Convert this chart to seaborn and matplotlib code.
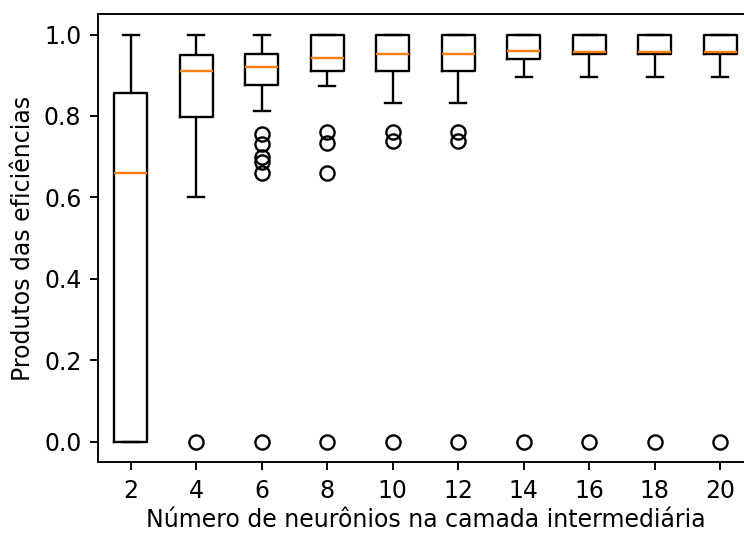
import numpy as np
import pandas as pd
import matplotlib
matplotlib.use("Agg")
import matplotlib.pyplot as plt
import seaborn as sns

# Hidden-layer sizes tested
neurons = [2, 4, 6, 8, 10, 12, 14, 16, 18, 20]

# Box-plot summary of the efficiency products for each network size
whisker_low = [0.000, 0.600, 0.812, 0.874, 0.831, 0.831, 0.895, 0.895, 0.895, 0.895]
q1 = [0.000, 0.798, 0.875, 0.911, 0.911, 0.911, 0.941, 0.953, 0.953, 0.953]
median = [0.660, 0.910, 0.921, 0.943, 0.952, 0.952, 0.959, 0.958, 0.958, 0.958]
q3 = [0.856, 0.951, 0.952, 1.000, 1.000, 1.000, 1.000, 1.000, 1.000, 1.000]
whisker_high = [1.000, 1.000, 1.000, 1.000, 1.000, 1.000, 1.000, 1.000, 1.000, 1.000]
outliers = [
    [],
    [0.0],
    [0.0, 0.660, 0.687, 0.700, 0.731, 0.755],
    [0.0, 0.659, 0.734, 0.760],
    [0.0, 0.739, 0.760],
    [0.0, 0.739, 0.760],
    [0.0],
    [0.0],
    [0.0],
    [0.0],
]


def sample_from_summary(lo, a, m, b, hi, fliers):
    """Smallest sorted sample (4k+1 values) whose quartiles, whiskers and
    fliers reproduce the given five-number summary."""
    k = len(fliers) + 1
    below = sorted(fliers) + [lo] + [a] * (k - len(fliers) - 1)
    middle = [a] + [m] * (2 * k - 1) + [b]
    above = [b] * (k - 1) + [hi]
    return below + middle + above


rows = []
for i, n in enumerate(neurons):
    vals = sample_from_summary(whisker_low[i], q1[i], median[i], q3[i],
                               whisker_high[i], outliers[i])
    rows += [(n, v) for v in vals]
df = pd.DataFrame(rows, columns=["neurons", "efficiency"])

DPI = 170
fig = plt.figure(figsize=(744 / DPI, 533 / DPI), dpi=DPI)
ax = fig.add_axes([98 / 744, 1 - 462 / 533, (753 - 98) / 744, (462 - 14.2) / 533])

sns.boxplot(
    data=df, x="neurons", y="efficiency", ax=ax,
    fill=False, color="black", linewidth=1.0, width=0.5, whis=1.5,
    fliersize=6,
    medianprops={"color": "#ff7f0e", "linewidth": 1.0},
    flierprops={"marker": "o", "markerfacecolor": "none",
                "markeredgecolor": "black", "markersize": 6},
)

ax.set_xlabel("Número de neurônios na camada intermediária", fontsize=10, labelpad=2.5)
ax.set_ylabel("Produtos das eficiências", fontsize=10)
ax.set_yticks([0.0, 0.2, 0.4, 0.6, 0.8, 1.0])
ax.set_ylim(-0.05, 1.05)
ax.set_xlim(-0.5, 9.5)

fig.savefig("out.png", dpi=DPI)
